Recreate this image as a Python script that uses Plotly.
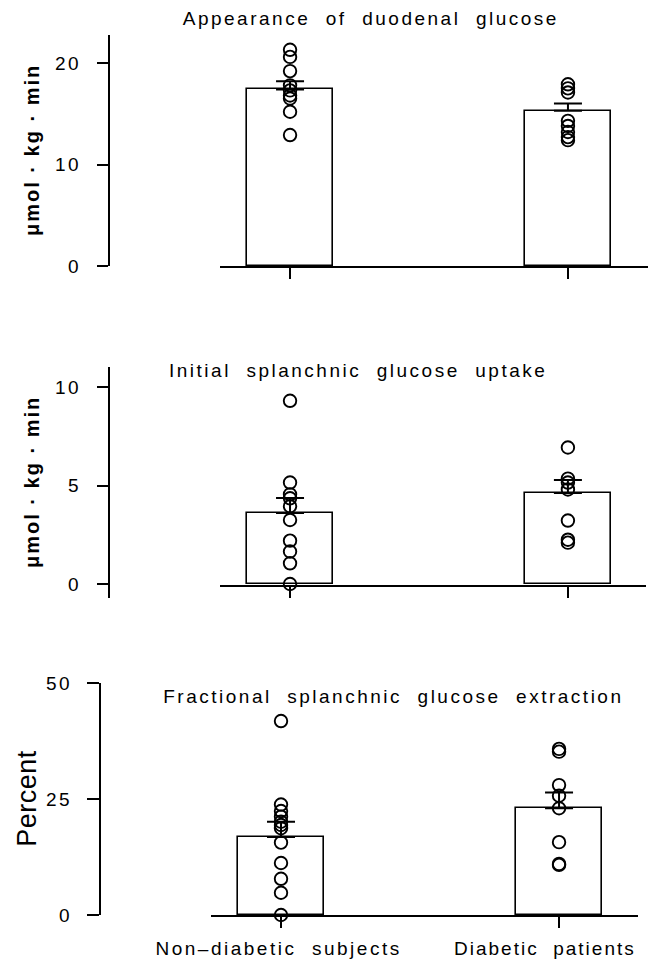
import plotly.graph_objects as go

W, H = 658, 963

groups = ["Non\u2013diabetic  subjects", "Diabetic  patients"]
group_x = [0, 1]

titles = ["Appearance  of  duodenal  glucose",
          "Initial  splanchnic  glucose  uptake",
          "Fractional  splanchnic  glucose  extraction"]
ylabels = ["\u03bcmol \u00b7 kg \u00b7 min", "\u03bcmol \u00b7 kg \u00b7 min", "Percent"]

# Panel 1: appearance of duodenal glucose
p1_bar = [17.4, 15.3]
p1_sem = [0.8, 0.7]
p1_nd = [21.3, 20.6, 19.2, 17.8, 17.3, 16.8, 16.5, 15.2, 12.9]
p1_d = [17.9, 17.5, 17.1, 14.3, 13.8, 13.2, 12.7, 12.4]
p1_ticks = [0, 10, 20]

# Panel 2: initial splanchnic glucose uptake
p2_bar = [3.6, 4.62]
p2_sem = [0.77, 0.66]
p2_nd = [9.3, 5.15, 4.55, 4.35, 3.95, 3.25, 2.2, 1.65, 1.05, 0.0]
p2_d = [6.93, 5.35, 5.15, 4.8, 3.22, 2.25, 2.1]
p2_ticks = [0, 5, 10]

# Panel 3: fractional splanchnic glucose extraction
p3_bar = [16.8, 23.0]
p3_sem = [3.3, 3.4]
p3_nd = [41.8, 23.8, 22.4, 21.2, 20.1, 19.4, 18.7, 15.6, 11.2, 7.8, 4.8, 0.0]
p3_d = [35.8, 35.2, 28.0, 25.7, 23.0, 15.7, 11.0, 10.8]
p3_ticks = [0, 25, 50]

FONT = "Liberation Sans, Arial, sans-serif"


def fx(px):
    return px / W


def fy(py):
    return 1 - py / H


fig = go.Figure()

panels = [
    (p1_bar, p1_sem, p1_nd, p1_d, "x", "y"),
    (p2_bar, p2_sem, p2_nd, p2_d, "x2", "y2"),
    (p3_bar, p3_sem, p3_nd, p3_d, "x3", "y3"),
]

for bars, sem, nd, d, xa, ya in panels:
    fig.add_trace(go.Bar(
        x=group_x, y=bars, width=0.31, xaxis=xa, yaxis=ya,
        marker=dict(color="white", line=dict(color="black", width=1.6)),
        error_y=dict(type="data", symmetric=False, array=sem,
                     arrayminus=[0, 0], width=14, thickness=2, color="black"),
        showlegend=False, hoverinfo="skip",
    ))
    for gx, vals in zip(group_x, [nd, d]):
        fig.add_trace(go.Scatter(
            x=[gx] * len(vals), y=vals, mode="markers", xaxis=xa, yaxis=ya,
            marker=dict(symbol="circle-open", size=12.5, color="black",
                        line=dict(width=1.9)),
            cliponaxis=False, showlegend=False, hoverinfo="skip",
        ))

axis_common = dict(showline=True, linecolor="black", linewidth=2,
                   ticks="outside", tickcolor="black", tickwidth=2,
                   showgrid=False, zeroline=False, fixedrange=True,
                   automargin=False,
                   tickfont=dict(family=FONT, size=19, color="black"))

x_common = dict(axis_common, tickvals=group_x, ticklen=11,
                showticklabels=False)

fig.update_layout(
    width=W, height=H,
    margin=dict(l=0, r=0, t=0, b=0, pad=0, autoexpand=False),
    paper_bgcolor="white", plot_bgcolor="rgba(0,0,0,0)",
    bargap=0,
    xaxis=dict(x_common, domain=[fx(220), fx(648)], range=[-0.252, 1.288],
               anchor="y"),
    yaxis=dict(axis_common, domain=[fy(266), fy(35)],
               range=[0, (266 - 35) / 10.15], anchor="free", position=fx(109),
               tickvals=p1_ticks, ticklen=11, ticklabelstandoff=12),
    xaxis2=dict(x_common, domain=[fx(220), fx(646)], range=[-0.252, 1.281],
                anchor="free", position=fy(585.5)),
    yaxis2=dict(axis_common, domain=[fy(598), fy(367)],
                range=[(584 - 598) / 19.7, (584 - 367) / 19.7],
                anchor="free", position=fx(109),
                tickvals=p2_ticks, ticklen=11, ticklabelstandoff=12),
    xaxis3=dict(x_common, domain=[fx(211), fx(638)], range=[-0.2518, 1.284],
                anchor="y3", ticktext=groups),
    yaxis3=dict(axis_common, domain=[fy(915), fy(683)], range=[0, 50],
                anchor="free", position=fx(100),
                tickvals=p3_ticks, ticklen=12, ticklabelstandoff=11),
)

# category labels under the bottom panel
for g, cx in zip(groups, [278, 545]):
    fig.add_annotation(text=g, x=fx(cx), y=fy(948), xref="paper", yref="paper",
                       xanchor="center", yanchor="middle", showarrow=False,
                       font=dict(family=FONT, size=19, color="black"))

title_pos = [(371, 19), (358, 370), (393, 696)]
for t, (tx, ty) in zip(titles, title_pos):
    fig.add_annotation(text=t, x=fx(tx), y=fy(ty), xref="paper", yref="paper",
                       xanchor="center", yanchor="middle", showarrow=False,
                       font=dict(family=FONT, size=19, color="black"))

ylab_pos = [(32, 150), (32, 482), (27, 798)]
for i, (lab, (lx, ly)) in enumerate(zip(ylabels, ylab_pos)):
    txt = "<b>" + lab + "</b>" if i < 2 else lab
    fig.add_annotation(text=txt, x=fx(lx), y=fy(ly), xref="paper", yref="paper",
                       xanchor="center", yanchor="middle", showarrow=False,
                       textangle=-90,
                       font=dict(family=FONT, size=20 if i < 2 else 27,
                                 color="black"))

post_js = """
var gd = document.getElementById('{plot_id}');
function ls(){
  gd.querySelectorAll('text').forEach(function(t){
    var s = t.textContent;
    if (s === 'Percent') { t.style.letterSpacing = '0.5px'; }
    else if (s.indexOf('kg') >= 0) { t.style.letterSpacing = '2px'; }
    else if (s.indexOf('Diabetic') >= 0) { t.style.letterSpacing = '2px'; }
    else { t.style.letterSpacing = '2.5px'; }
  });
}
ls();
gd.on('plotly_afterplot', ls);
"""

fig.write_html("out.html", post_script=post_js, config={"displayModeBar": False})
